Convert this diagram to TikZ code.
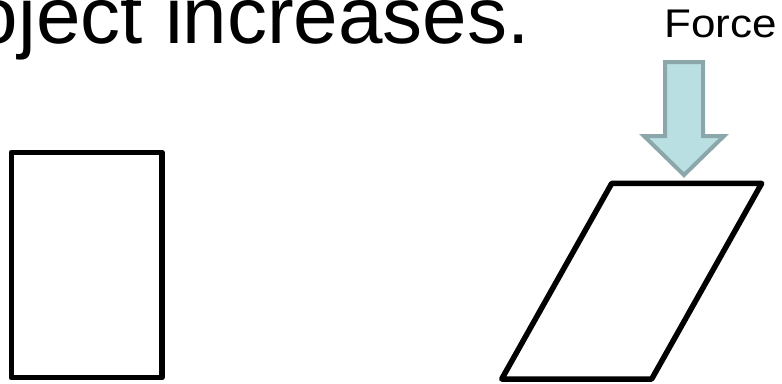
\documentclass[tikz,border=0pt]{standalone}
\usepackage{fontspec}
\setmainfont{Liberation Sans}
\usetikzlibrary{positioning}
\definecolor{fteal}{HTML}{B9DFE3}
\definecolor{fgrey}{HTML}{8CA7AA}

\begin{document}
\begin{tikzpicture}[
  x=1pt,y=-1pt,
  shp/.style={draw=black,line width=5.5pt,line join=round},
  push/.style={draw=fgrey,fill=fteal,line width=4pt,line join=miter},
  big/.style={font=\fontsize{80}{84}\selectfont,inner sep=0pt},
  lbl/.style={font=\fontsize{40}{44}\selectfont,inner sep=0pt}]
\useasboundingbox (0,0) rectangle (782,383);

% ---------------- heading ----------------
\node[big,anchor=base east] (head) at (530,43) {oject increases.};

% ---------------- before: block at rest ----------------
\draw[shp] (11.3,152.3) rectangle (162,377.7);

% ---------------- after: block is sheared ----------------
\node[lbl,anchor=base east,xscale=1.1] (force) at (777,37) {Force};
\draw[push] (665,62) -- (703,62) -- (703,136) -- (724,136) -- (684,175)
  -- (644,136) -- (665,136) -- cycle;
\draw[shp] (611.7,183.4) -- (761.7,183.4) -- (651.7,379) -- (501.7,379) -- cycle;
\end{tikzpicture}
\end{document}
